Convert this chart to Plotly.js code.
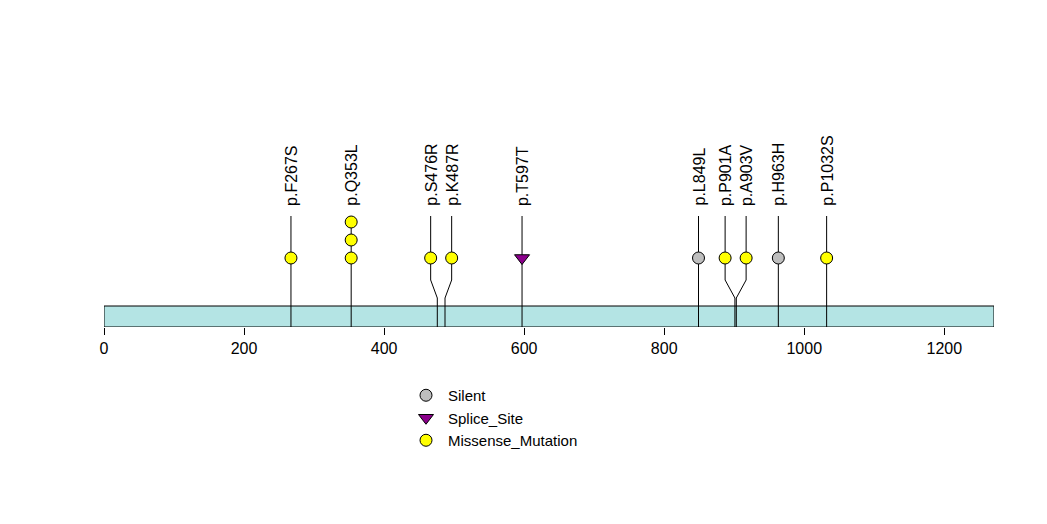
<!DOCTYPE html>
<html>
<head>
<meta charset="utf-8">
<script src="https://cdn.plot.ly/plotly-3.0.1.min.js"></script>
<style>html,body{margin:0;padding:0;background:#fff}#chart{width:1047px;height:524px}</style>
</head>
<body>
<div id="chart"></div>
<script>
// ---- data ----
const proteinLength = 1271;
const mutLabels = ["p.F267S","p.Q353L","p.S476R","p.K487R","p.T597T","p.L849L","p.P901A","p.A903V","p.H963H","p.P1032S"];
const mutPositions = [267,353,476,487,597,849,901,903,963,1032];
const mutCounts = [1,3,1,1,1,1,1,1,1,1];
const mutTypes = ["Missense_Mutation","Missense_Mutation","Missense_Mutation","Missense_Mutation","Splice_Site","Silent","Missense_Mutation","Missense_Mutation","Silent","Missense_Mutation"];
const tickValues = [0,200,400,600,800,1000,1200];
const legendOrder = ["Silent","Splice_Site","Missense_Mutation"];

// ---- styles ----
const typeStyle = {
  "Silent": {symbol: "circle", color: "#bebebe", size: 12},
  "Splice_Site": {symbol: "triangle-down", color: "#8b008b", size: 13},
  "Missense_Mutation": {symbol: "circle", color: "#ffff00", size: 12}
};
const FONT = "Liberation Sans, Arial, Helvetica, sans-serif";
// vertical levels (axis units)
const barTop = 21, bendLow = 29, bendHigh = 47, firstDot = 69, dotStep = 18, stemTop = 111, labelBase = 119;
const minSep = 30;

// spread overlapping lollipops
const displayPos = mutPositions.slice();
let i = 0;
while (i < mutPositions.length) {
  let j = i;
  while (j + 1 < mutPositions.length && mutPositions[j + 1] - mutPositions[j] < minSep) j++;
  if (j > i) {
    const n = j - i + 1;
    let mean = 0;
    for (let k = i; k <= j; k++) mean += mutPositions[k];
    mean /= n;
    for (let k = i; k <= j; k++) displayPos[k] = mean + (k - i - (n - 1) / 2) * minSep;
  }
  i = j + 1;
}

// stems
const sx = [], sy = [];
mutPositions.forEach((p, k) => {
  sx.push(p, p, p, displayPos[k], displayPos[k], null);
  sy.push(0, barTop, bendLow, bendHigh, stemTop, null);
});
const traces = [{
  x: sx, y: sy, mode: "lines", type: "scatter",
  line: {color: "#000", width: 1}, hoverinfo: "skip", showlegend: false
}];

legendOrder.forEach(t => {
  const xs = [], ys = [];
  mutPositions.forEach((p, k) => {
    if (mutTypes[k] !== t) return;
    for (let c = 0; c < mutCounts[k]; c++) { xs.push(displayPos[k]); ys.push(firstDot + c * dotStep); }
  });
  const st = typeStyle[t];
  traces.push({
    x: xs, y: ys, mode: "markers", type: "scatter", name: t,
    marker: {symbol: st.symbol, color: st.color, size: st.size, line: {color: "#000", width: 1}},
    cliponaxis: false
  });
});

const annotations = mutLabels.map((lab, k) => ({
  x: displayPos[k], y: labelBase, xref: "x", yref: "y",
  text: lab, showarrow: false, textangle: -90,
  xanchor: "center", yanchor: "bottom",
  font: {family: FONT, size: 16, color: "#000"}
}));

const layout = {
  width: 1047, height: 524,
  margin: {l: 104, r: 53, t: 0, b: 197, pad: 0, autoexpand: false},
  paper_bgcolor: "#fff", plot_bgcolor: "#fff",
  showlegend: true,
  legend: {
    xref: "container", yref: "container", x: 404 / 1047, y: (524 - 379) / 524,
    xanchor: "left", yanchor: "top", bgcolor: "rgba(0,0,0,0)", itemwidth: 34,
    font: {family: FONT, size: 15, color: "#000"}, tracegroupgap: 0
  },
  xaxis: {
    range: [0, proteinLength], showgrid: false, zeroline: false, showline: false,
    ticks: "outside", ticklen: 7, tickwidth: 1, tickcolor: "#000",
    tickvals: tickValues, ticktext: tickValues.map(String),
    tickfont: {family: FONT, size: 16, color: "#000"}, fixedrange: true
  },
  yaxis: {range: [0, 327], visible: false, fixedrange: true},
  shapes: [{
    type: "rect", xref: "x", yref: "y", x0: 0, x1: proteinLength, y0: 0, y1: barTop,
    fillcolor: "#b4e4e4", line: {color: "#000", width: 1}, layer: "below"
  }],
  annotations: annotations
};

Plotly.newPlot("chart", traces, layout, {displayModeBar: false, staticPlot: true});
</script>
</body>
</html>
